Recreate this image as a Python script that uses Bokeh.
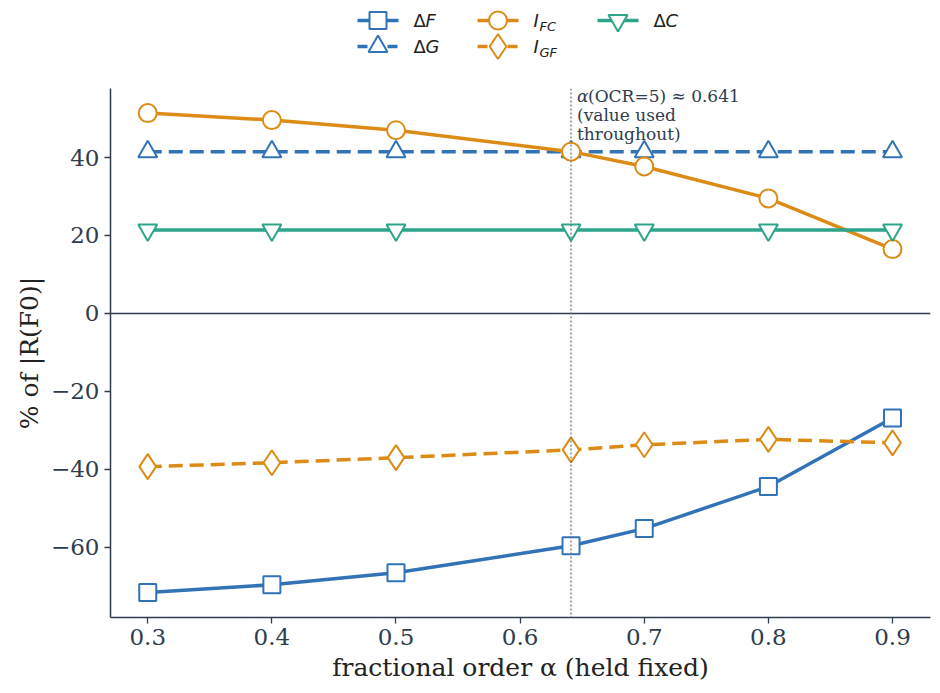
from bokeh.plotting import figure
from bokeh.layouts import column
from bokeh.models import Range1d, FixedTicker, Span, Label
from bokeh.core.properties import value
from bokeh.embed import file_html
from bokeh.resources import INLINE

# ---------------- data ----------------
alpha = [0.3, 0.4, 0.5, 0.641, 0.7, 0.8, 0.9]
dF = [-71.6, -69.6, -66.5, -59.6, -55.2, -44.4, -26.8]
dG = [41.5, 41.5, 41.5, 41.5, 41.5, 41.5, 41.5]
I_FC = [51.4, 49.6, 47.0, 41.5, 37.7, 29.5, 16.5]
I_GF = [-39.3, -38.3, -37.0, -35.0, -33.7, -32.3, -33.2]
dC = [21.4, 21.4, 21.4, 21.4, 21.4, 21.4, 21.4]

alpha_ref = 0.641
x_ticks = [0.3, 0.4, 0.5, 0.6, 0.7, 0.8, 0.9]
y_ticks = [-60, -40, -20, 0, 20, 40]

BLUE = "#3173b6"
ORANGE = "#dc8c16"
GREEN = "#2ea48a"
SLATE = "#2e3d4e"

# name (prefix, main, subscript), values, color, marker, dash
series = [
    (("\u0394", "F", ""), dF, BLUE, "square", "solid"),
    (("\u0394", "G", ""), dG, BLUE, "triangle", "14 7"),
    (("", "I", "FC"), I_FC, ORANGE, "circle", "solid"),
    (("", "I", "GF"), I_GF, ORANGE, "diamond", "14 7"),
    (("\u0394", "C", ""), dC, GREEN, "inverted_triangle", "solid"),
]
marker_size = {"square": 17, "triangle": 19, "circle": 18, "diamond": 25,
               "inverted_triangle": 19}

LW = 3.5
W = 940
LEG_H = 60
FRAME_TOP = 88
FRAME_BOTTOM = 617
FRAME_LEFT = 110
FRAME_RIGHT = 930
X0, X1 = 0.27, 0.9306
Y0, Y1 = -78.0, 57.7

# ---------------- legend figure (frame aligned with main frame) ----------------
leg = figure(width=W, height=LEG_H, x_range=Range1d(FRAME_LEFT, FRAME_RIGHT),
             y_range=Range1d(LEG_H, 0),
             output_backend="svg", toolbar_location=None,
             x_axis_location=None, y_axis_location=None,
             min_border_left=FRAME_LEFT, min_border_right=W - FRAME_RIGHT,
             min_border_top=0, min_border_bottom=0, outline_line_color=None)
leg.grid.visible = False
for i, (nm, vals, col, mk, dash) in enumerate(series):
    c, r = i // 2, i % 2
    lx = 357 + c * 120
    ly = 20 + r * 26
    leg.line([lx, lx + 41], [ly, ly], line_color=col, line_width=LW,
             line_dash=dash if dash == "solid" else "10 5")
    leg.scatter([lx + 20.5], [ly], marker=mk, size=marker_size[mk],
                fill_color="white", line_color=col, line_width=2)
    tx = lx + 56
    pre, main, sub = nm
    if pre:
        leg.text([tx], [ly], text=[pre], text_font=value("DejaVu Sans"),
                 text_font_size="18px", text_color="#222222",
                 text_baseline="middle", text_align="left")
        tx += 12
    leg.text([tx], [ly], text=[main], text_font=value("DejaVu Sans"),
             text_font_style="italic", text_font_size="18px", text_color="#222222",
             text_baseline="middle", text_align="left")
    if sub:
        leg.text([tx + 6], [ly + 6], text=[sub], text_font=value("DejaVu Sans"),
                 text_font_style="italic", text_font_size="13px", text_color="#222222",
                 text_baseline="middle", text_align="left")

# ---------------- main figure ----------------
H = 693 - LEG_H
p = figure(width=W, height=H, x_range=Range1d(X0, X1), y_range=Range1d(Y0, Y1),
           output_backend="svg", toolbar_location=None,
           min_border_top=FRAME_TOP - LEG_H, min_border_bottom=693 - FRAME_BOTTOM,
           min_border_left=FRAME_LEFT, min_border_right=W - FRAME_RIGHT,
           outline_line_color=None, background_fill_color="white")
p.grid.visible = False

# zero line
p.add_layout(Span(location=0, dimension="width", line_color=SLATE, line_width=1.5))

for nm, vals, col, mk, dash in series:
    p.line(alpha, vals, line_color=col, line_width=LW, line_dash=dash)
    p.scatter(alpha, vals, marker=mk, size=marker_size[mk], fill_color="white",
              line_color=col, line_width=2)

# reference alpha line
p.add_layout(Span(location=alpha_ref, dimension="height", line_color="#777777",
                  line_width=1.3, line_dash="2 2"))

# annotation
ppu = (FRAME_BOTTOM - FRAME_TOP) / (Y1 - Y0)
def ypix(py):
    return Y1 - (py - FRAME_TOP) / ppu

ANN_FS = "17px"
p.add_layout(Label(x=alpha_ref, y=ypix(95), x_offset=6, text="\u03b1",
                   text_font="DejaVu Serif", text_font_style="italic",
                   text_font_size=ANN_FS, text_color=SLATE, text_baseline="middle"))
p.add_layout(Label(x=alpha_ref, y=ypix(95), x_offset=17, text="(OCR=5) \u2248 0.641",
                   text_font="DejaVu Serif", text_font_size=ANN_FS, text_color=SLATE,
                   text_baseline="middle"))
p.add_layout(Label(x=alpha_ref, y=ypix(114), x_offset=6, text="(value used",
                   text_font="DejaVu Serif", text_font_size=ANN_FS, text_color=SLATE,
                   text_baseline="middle"))
p.add_layout(Label(x=alpha_ref, y=ypix(133), x_offset=6, text="throughout)",
                   text_font="DejaVu Serif", text_font_size=ANN_FS, text_color=SLATE,
                   text_baseline="middle"))

# axes styling
for ax in (p.xaxis[0], p.yaxis[0]):
    ax.axis_line_color = SLATE
    ax.axis_line_width = 1.5
    ax.major_tick_line_color = SLATE
    ax.major_tick_line_width = 1.3
    ax.major_tick_out = 6
    ax.major_tick_in = 0
    ax.minor_tick_line_color = None
    ax.major_label_text_font = "DejaVu Serif"
    ax.major_label_text_font_size = "23px"
    ax.major_label_text_color = SLATE
    ax.axis_label_text_font = "DejaVu Serif"
    ax.axis_label_text_font_size = "25px"
    ax.axis_label_text_font_style = "normal"
    ax.axis_label_text_color = "#222222"

p.xaxis.ticker = FixedTicker(ticks=x_ticks)
p.yaxis.ticker = FixedTicker(ticks=y_ticks)
p.yaxis.major_label_overrides = {t: (str(t).replace("-", "\u2212")) for t in y_ticks}
p.xaxis.axis_label = "fractional order \u03b1 (held fixed)"
p.yaxis.axis_label = "% of |R(F0)|"
p.xaxis.axis_label_standoff = 5
p.yaxis.axis_label_standoff = 4

layout = column(leg, p, spacing=0)
open("out.html", "w").write(file_html(layout, INLINE))
